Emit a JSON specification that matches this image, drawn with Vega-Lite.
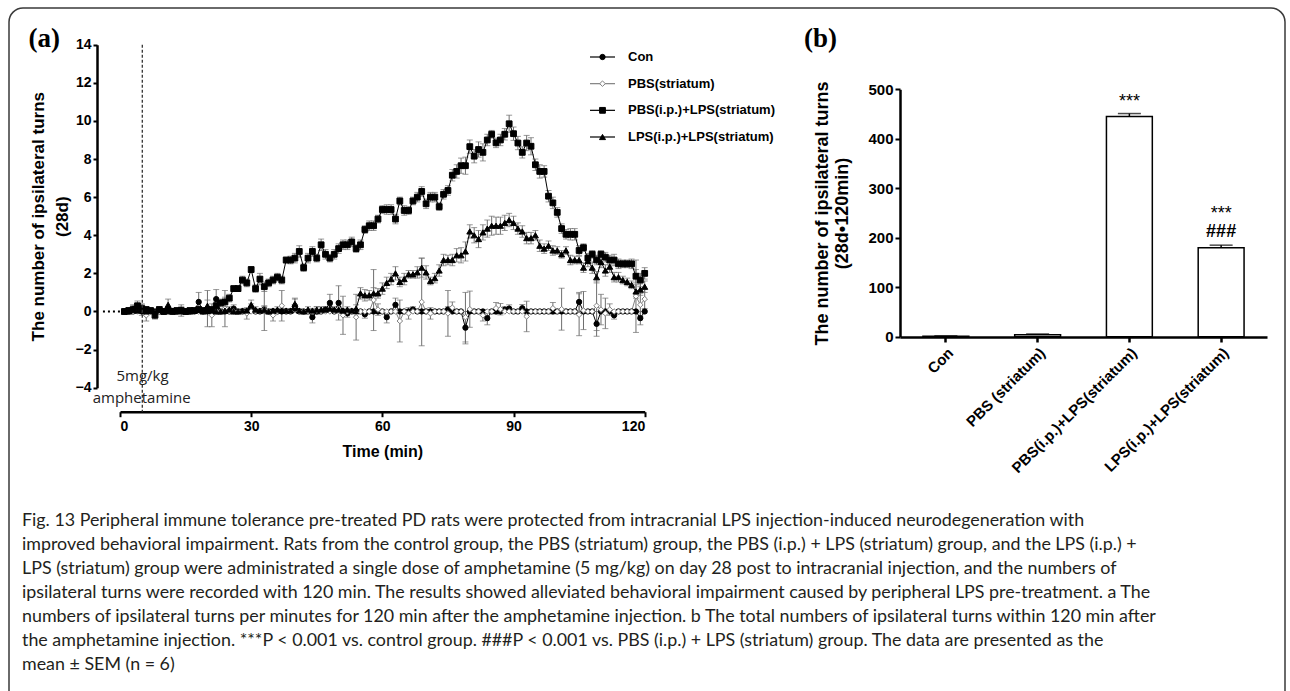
{
"$schema": "https://vega.github.io/schema/vega-lite/v6.json",
"width": 1276, "height": 700,
"autosize": {"type": "none"},
"padding": {"left": 9, "top": 8, "right": 5, "bottom": 0},
"background": "white",
"title": {
 "text": [
  "Fig. 13 Peripheral immune tolerance pre-treated PD rats were protected from intracranial LPS injection-induced neurodegeneration with",
  "improved behavioral impairment. Rats from the control group, the PBS (striatum) group, the PBS (i.p.) + LPS (striatum) group, and the LPS (i.p.) +",
  "LPS (striatum) group were administrated a single dose of amphetamine (5 mg/kg) on day 28 post to intracranial injection, and the numbers of",
  "ipsilateral turns were recorded with 120 min. The results showed alleviated behavioral impairment caused by peripheral LPS pre-treatment. a The",
  "numbers of ipsilateral turns per minutes for 120 min after the amphetamine injection. b The total numbers of ipsilateral turns within 120 min after",
  "the amphetamine injection. ***P < 0.001 vs. control group. ###P < 0.001 vs. PBS (i.p.) + LPS (striatum) group. The data are presented as the",
  "mean ± SEM (n = 6)"
 ],
 "orient": "bottom", "anchor": "start", "frame": "group", "offset": -196, "dx": 13,
 "font": "Lato", "fontSize": 17.85, "fontWeight": "normal", "lineHeight": 24, "color": "#231f20", "baseline": "top"
},
"config": {
 "view": {"stroke": "#3a3a3a", "strokeWidth": 1.5, "cornerRadius": 14},
 "axis": {"grid": false, "domainColor": "black", "domainWidth": 2.5, "tickColor": "black", "tickWidth": 2,
  "labelFont": "Liberation Sans", "labelFontWeight": "bold", "labelColor": "black",
  "titleFont": "Liberation Sans", "titleFontWeight": "bold", "titleColor": "black"}
},
"resolve": {"scale": {"x": "independent", "y": "independent"}, "axis": {"x": "independent", "y": "independent"}},
"layer": [
 {
  "data": {"values": [
{"s":"A","t":1,"v":0,"e":0},{"s":"A","t":2,"v":0,"e":0},{"s":"A","t":3,"v":0,"e":0},{"s":"A","t":4,"v":0.1,"e":0.15},{"s":"A","t":5,"v":0,"e":0},{"s":"A","t":6,"v":0,"e":0},{"s":"A","t":7,"v":0,"e":0},{"s":"A","t":8,"v":0,"e":0},{"s":"A","t":9,"v":0,"e":0},{"s":"A","t":10,"v":0,"e":0},
{"s":"A","t":11,"v":0,"e":0},{"s":"A","t":12,"v":0,"e":0},{"s":"A","t":13,"v":0,"e":0},{"s":"A","t":14,"v":0,"e":0},{"s":"A","t":15,"v":0,"e":0},{"s":"A","t":16,"v":0,"e":0},{"s":"A","t":17,"v":0,"e":0},{"s":"A","t":18,"v":0.5,"e":0.5},{"s":"A","t":19,"v":0,"e":0},{"s":"A","t":20,"v":0,"e":0},
{"s":"A","t":21,"v":0,"e":0},{"s":"A","t":22,"v":0.65,"e":0.5},{"s":"A","t":23,"v":0,"e":0},{"s":"A","t":24,"v":0,"e":0},{"s":"A","t":25,"v":0,"e":0},{"s":"A","t":26,"v":0.15,"e":0.2},{"s":"A","t":27,"v":0,"e":0},{"s":"A","t":28,"v":0,"e":0},{"s":"A","t":29,"v":0,"e":0},{"s":"A","t":30,"v":0.2,"e":0.2},
{"s":"A","t":31,"v":0,"e":0},{"s":"A","t":32,"v":0,"e":0},{"s":"A","t":33,"v":0.1,"e":0.2},{"s":"A","t":34,"v":0,"e":0},{"s":"A","t":35,"v":0,"e":0},{"s":"A","t":36,"v":0,"e":0},{"s":"A","t":37,"v":0,"e":0},{"s":"A","t":38,"v":0,"e":0},{"s":"A","t":39,"v":0,"e":0},{"s":"A","t":40,"v":0.15,"e":0.2},
{"s":"A","t":41,"v":0,"e":0},{"s":"A","t":42,"v":0,"e":0},{"s":"A","t":43,"v":0,"e":0},{"s":"A","t":44,"v":-0.3,"e":0.3},{"s":"A","t":45,"v":0,"e":0},{"s":"A","t":46,"v":0,"e":0},{"s":"A","t":47,"v":0.1,"e":0.15},{"s":"A","t":48,"v":0.45,"e":0.45},{"s":"A","t":49,"v":0,"e":0},{"s":"A","t":50,"v":0.45,"e":0.9},
{"s":"A","t":51,"v":0,"e":0},{"s":"A","t":52,"v":-0.1,"e":0.2},{"s":"A","t":53,"v":0,"e":0},{"s":"A","t":54,"v":0,"e":0},{"s":"A","t":55,"v":0,"e":0},{"s":"A","t":56,"v":-0.15,"e":0.2},{"s":"A","t":57,"v":0,"e":0},{"s":"A","t":58,"v":0,"e":0},{"s":"A","t":59,"v":0,"e":0},{"s":"A","t":60,"v":0,"e":0},
{"s":"A","t":61,"v":-0.3,"e":0.3},{"s":"A","t":62,"v":0,"e":0},{"s":"A","t":63,"v":0.35,"e":0.35},{"s":"A","t":64,"v":0,"e":0},{"s":"A","t":65,"v":0,"e":0},{"s":"A","t":66,"v":0,"e":0},{"s":"A","t":67,"v":0.1,"e":0.15},{"s":"A","t":68,"v":0,"e":0},{"s":"A","t":69,"v":0,"e":0},{"s":"A","t":70,"v":0,"e":0},
{"s":"A","t":71,"v":0,"e":0},{"s":"A","t":72,"v":0,"e":0},{"s":"A","t":73,"v":0,"e":0},{"s":"A","t":74,"v":0,"e":0},{"s":"A","t":75,"v":0.1,"e":0.15},{"s":"A","t":76,"v":0,"e":0},{"s":"A","t":77,"v":0,"e":0},{"s":"A","t":78,"v":0,"e":0},{"s":"A","t":79,"v":-0.85,"e":0.85},{"s":"A","t":80,"v":0,"e":0},
{"s":"A","t":81,"v":0,"e":0},{"s":"A","t":82,"v":0,"e":0},{"s":"A","t":83,"v":0,"e":0},{"s":"A","t":84,"v":-0.35,"e":0.35},{"s":"A","t":85,"v":0,"e":0},{"s":"A","t":86,"v":0,"e":0},{"s":"A","t":87,"v":0,"e":0},{"s":"A","t":88,"v":0.1,"e":0.15},{"s":"A","t":89,"v":0.15,"e":0.2},{"s":"A","t":90,"v":0,"e":0},
{"s":"A","t":91,"v":0,"e":0},{"s":"A","t":92,"v":0.17,"e":0.2},{"s":"A","t":93,"v":0,"e":0},{"s":"A","t":94,"v":0,"e":0},{"s":"A","t":95,"v":0,"e":0},{"s":"A","t":96,"v":0,"e":0},{"s":"A","t":97,"v":0,"e":0},{"s":"A","t":98,"v":0,"e":0},{"s":"A","t":99,"v":0,"e":0},{"s":"A","t":100,"v":0,"e":0},
{"s":"A","t":101,"v":0,"e":0},{"s":"A","t":102,"v":0,"e":0},{"s":"A","t":103,"v":0,"e":0},{"s":"A","t":104,"v":0,"e":0},{"s":"A","t":105,"v":0.5,"e":0.5},{"s":"A","t":106,"v":0,"e":0},{"s":"A","t":107,"v":0,"e":0},{"s":"A","t":108,"v":0,"e":0},{"s":"A","t":109,"v":-0.65,"e":0.65},{"s":"A","t":110,"v":0,"e":0},
{"s":"A","t":111,"v":0,"e":0},{"s":"A","t":112,"v":0,"e":0},{"s":"A","t":113,"v":-0.2,"e":0.2},{"s":"A","t":114,"v":0,"e":0},{"s":"A","t":115,"v":0,"e":0},{"s":"A","t":116,"v":0,"e":0},{"s":"A","t":117,"v":0,"e":0},{"s":"A","t":118,"v":0,"e":0},{"s":"A","t":119,"v":-0.35,"e":0.35},{"s":"A","t":120,"v":0,"e":0},
{"s":"B","t":1,"v":0,"e":0},{"s":"B","t":2,"v":0,"e":0},{"s":"B","t":3,"v":0,"e":0},{"s":"B","t":4,"v":0,"e":0},{"s":"B","t":5,"v":0.1,"e":0.3},{"s":"B","t":6,"v":-0.2,"e":0.3},{"s":"B","t":7,"v":0,"e":0},{"s":"B","t":8,"v":0,"e":0},{"s":"B","t":9,"v":0,"e":0},{"s":"B","t":10,"v":0,"e":0},
{"s":"B","t":11,"v":0,"e":0},{"s":"B","t":12,"v":0,"e":0},{"s":"B","t":13,"v":0,"e":0},{"s":"B","t":14,"v":0.05,"e":0.3},{"s":"B","t":15,"v":0,"e":0},{"s":"B","t":16,"v":0,"e":0},{"s":"B","t":17,"v":0,"e":0},{"s":"B","t":18,"v":0,"e":0},{"s":"B","t":19,"v":0,"e":0},{"s":"B","t":20,"v":0.15,"e":0.95},
{"s":"B","t":21,"v":-0.2,"e":0.6},{"s":"B","t":22,"v":0,"e":0},{"s":"B","t":23,"v":0,"e":0},{"s":"B","t":24,"v":0.15,"e":0.95},{"s":"B","t":25,"v":0,"e":0},{"s":"B","t":26,"v":0,"e":0},{"s":"B","t":27,"v":0,"e":0},{"s":"B","t":28,"v":0,"e":0},{"s":"B","t":29,"v":-0.1,"e":0.3},{"s":"B","t":30,"v":0,"e":0},
{"s":"B","t":31,"v":0,"e":0},{"s":"B","t":32,"v":0,"e":0},{"s":"B","t":33,"v":0.1,"e":1.1},{"s":"B","t":34,"v":0,"e":0},{"s":"B","t":35,"v":-0.2,"e":0.3},{"s":"B","t":36,"v":0,"e":0},{"s":"B","t":37,"v":0.3,"e":0.8},{"s":"B","t":38,"v":0,"e":0},{"s":"B","t":39,"v":0,"e":0},{"s":"B","t":40,"v":0.35,"e":0.3},
{"s":"B","t":41,"v":0,"e":0},{"s":"B","t":42,"v":0,"e":0},{"s":"B","t":43,"v":0,"e":0},{"s":"B","t":44,"v":0,"e":0},{"s":"B","t":45,"v":0.05,"e":0.2},{"s":"B","t":46,"v":0,"e":0},{"s":"B","t":47,"v":0,"e":0},{"s":"B","t":48,"v":0,"e":0},{"s":"B","t":49,"v":0,"e":0},{"s":"B","t":50,"v":0,"e":0},
{"s":"B","t":51,"v":-0.2,"e":1.0},{"s":"B","t":52,"v":0,"e":0},{"s":"B","t":53,"v":0,"e":0},{"s":"B","t":54,"v":-0.3,"e":1.2},{"s":"B","t":55,"v":0,"e":0},{"s":"B","t":56,"v":0,"e":0},{"s":"B","t":57,"v":0,"e":0},{"s":"B","t":58,"v":0.6,"e":1.6},{"s":"B","t":59,"v":0.1,"e":0.3},{"s":"B","t":60,"v":0,"e":0},
{"s":"B","t":61,"v":0,"e":0},{"s":"B","t":62,"v":0,"e":0},{"s":"B","t":63,"v":0,"e":0},{"s":"B","t":64,"v":-0.5,"e":1.1},{"s":"B","t":65,"v":0,"e":0},{"s":"B","t":66,"v":-0.1,"e":0.3},{"s":"B","t":67,"v":0,"e":0},{"s":"B","t":68,"v":0,"e":0},{"s":"B","t":69,"v":0.5,"e":2.3},{"s":"B","t":70,"v":0,"e":0},
{"s":"B","t":71,"v":-0.1,"e":0.3},{"s":"B","t":72,"v":0,"e":0},{"s":"B","t":73,"v":0,"e":0},{"s":"B","t":74,"v":0,"e":0},{"s":"B","t":75,"v":-0.1,"e":1.2},{"s":"B","t":76,"v":0.2,"e":0.3},{"s":"B","t":77,"v":0,"e":0},{"s":"B","t":78,"v":0,"e":0},{"s":"B","t":79,"v":-0.3,"e":1.3},{"s":"B","t":80,"v":0.12,"e":0.95},
{"s":"B","t":81,"v":0,"e":0},{"s":"B","t":82,"v":0,"e":0},{"s":"B","t":83,"v":-0.2,"e":0.3},{"s":"B","t":84,"v":0,"e":0},{"s":"B","t":85,"v":0,"e":0},{"s":"B","t":86,"v":0.17,"e":0.3},{"s":"B","t":87,"v":0.12,"e":0.3},{"s":"B","t":88,"v":0,"e":0},{"s":"B","t":89,"v":0,"e":0},{"s":"B","t":90,"v":0,"e":0},
{"s":"B","t":91,"v":0,"e":0},{"s":"B","t":92,"v":0,"e":0},{"s":"B","t":93,"v":-0.26,"e":0.8},{"s":"B","t":94,"v":0,"e":0},{"s":"B","t":95,"v":0,"e":0},{"s":"B","t":96,"v":0,"e":0},{"s":"B","t":97,"v":0,"e":0},{"s":"B","t":98,"v":0,"e":0},{"s":"B","t":99,"v":0.17,"e":0.3},{"s":"B","t":100,"v":0,"e":0},
{"s":"B","t":101,"v":0.12,"e":1.1},{"s":"B","t":102,"v":0,"e":0},{"s":"B","t":103,"v":0,"e":0},{"s":"B","t":104,"v":0,"e":0},{"s":"B","t":105,"v":-0.17,"e":1.1},{"s":"B","t":106,"v":0.05,"e":1.0},{"s":"B","t":107,"v":0,"e":0},{"s":"B","t":108,"v":0,"e":0},{"s":"B","t":109,"v":0.3,"e":1.3},{"s":"B","t":110,"v":0.1,"e":0.8},
{"s":"B","t":111,"v":-0.1,"e":0.8},{"s":"B","t":112,"v":0.1,"e":0.3},{"s":"B","t":113,"v":0,"e":0},{"s":"B","t":114,"v":0,"e":0},{"s":"B","t":115,"v":0,"e":0},{"s":"B","t":116,"v":0,"e":0},{"s":"B","t":117,"v":0,"e":0},{"s":"B","t":118,"v":0.8,"e":1.9},{"s":"B","t":119,"v":0.35,"e":0.6},{"s":"B","t":120,"v":0.65,"e":0.5},
{"s":"C","t":1,"v":0,"e":0.1},{"s":"C","t":2,"v":0.05,"e":0.15},{"s":"C","t":3,"v":0.1,"e":0.2},{"s":"C","t":4,"v":0.3,"e":0.25},{"s":"C","t":5,"v":0.15,"e":0.2},{"s":"C","t":6,"v":0.1,"e":0.15},{"s":"C","t":7,"v":0.05,"e":0.1},{"s":"C","t":8,"v":-0.2,"e":0.2},{"s":"C","t":9,"v":0.1,"e":0.15},{"s":"C","t":10,"v":0,"e":0.1},
{"s":"C","t":11,"v":0.05,"e":0.1},{"s":"C","t":12,"v":0,"e":0.1},{"s":"C","t":13,"v":0.05,"e":0.1},{"s":"C","t":14,"v":0.05,"e":0.15},{"s":"C","t":15,"v":0,"e":0.1},{"s":"C","t":16,"v":0.05,"e":0.1},{"s":"C","t":17,"v":0.05,"e":0.1},{"s":"C","t":18,"v":0.1,"e":0.15},{"s":"C","t":19,"v":0.05,"e":0.1},{"s":"C","t":20,"v":0.05,"e":0.15},
{"s":"C","t":21,"v":0.1,"e":0.15},{"s":"C","t":22,"v":0.3,"e":0.2},{"s":"C","t":23,"v":0.45,"e":0.2},{"s":"C","t":24,"v":0.5,"e":0.25},{"s":"C","t":25,"v":0.7,"e":0.2},{"s":"C","t":26,"v":1.2,"e":0.15},{"s":"C","t":27,"v":1.2,"e":0.15},{"s":"C","t":28,"v":1.65,"e":0.2},{"s":"C","t":29,"v":1.5,"e":0.2},{"s":"C","t":30,"v":2.2,"e":0.15},
{"s":"C","t":31,"v":1.2,"e":0.2},{"s":"C","t":32,"v":1.7,"e":0.3},{"s":"C","t":33,"v":1.3,"e":0.25},{"s":"C","t":34,"v":1.5,"e":0.2},{"s":"C","t":35,"v":1.65,"e":0.2},{"s":"C","t":36,"v":1.8,"e":0.2},{"s":"C","t":37,"v":1.65,"e":0.2},{"s":"C","t":38,"v":2.7,"e":0.15},{"s":"C","t":39,"v":2.7,"e":0.2},{"s":"C","t":40,"v":2.8,"e":0.25},
{"s":"C","t":41,"v":3.15,"e":0.3},{"s":"C","t":42,"v":2.3,"e":0.2},{"s":"C","t":43,"v":2.8,"e":0.25},{"s":"C","t":44,"v":3.15,"e":0.25},{"s":"C","t":45,"v":2.8,"e":0.2},{"s":"C","t":46,"v":3.5,"e":0.3},{"s":"C","t":47,"v":3.0,"e":0.25},{"s":"C","t":48,"v":2.8,"e":0.2},{"s":"C","t":49,"v":3.0,"e":0.25},{"s":"C","t":50,"v":3.3,"e":0.25},
{"s":"C","t":51,"v":3.5,"e":0.25},{"s":"C","t":52,"v":3.5,"e":0.25},{"s":"C","t":53,"v":3.65,"e":0.25},{"s":"C","t":54,"v":3.3,"e":0.2},{"s":"C","t":55,"v":3.5,"e":0.25},{"s":"C","t":56,"v":4.3,"e":0.2},{"s":"C","t":57,"v":4.5,"e":0.25},{"s":"C","t":58,"v":4.5,"e":0.25},{"s":"C","t":59,"v":4.85,"e":0.2},{"s":"C","t":60,"v":5.35,"e":0.2},
{"s":"C","t":61,"v":5.35,"e":0.25},{"s":"C","t":62,"v":5.35,"e":0.25},{"s":"C","t":63,"v":4.85,"e":0.25},{"s":"C","t":64,"v":5.8,"e":0.2},{"s":"C","t":65,"v":5.3,"e":0.25},{"s":"C","t":66,"v":5.3,"e":0.2},{"s":"C","t":67,"v":5.8,"e":0.2},{"s":"C","t":68,"v":6.0,"e":0.25},{"s":"C","t":69,"v":6.3,"e":0.25},{"s":"C","t":70,"v":5.65,"e":0.25},
{"s":"C","t":71,"v":6.0,"e":0.25},{"s":"C","t":72,"v":6.0,"e":0.25},{"s":"C","t":73,"v":5.5,"e":0.2},{"s":"C","t":74,"v":6.15,"e":0.25},{"s":"C","t":75,"v":6.35,"e":0.25},{"s":"C","t":76,"v":7.15,"e":0.3},{"s":"C","t":77,"v":7.35,"e":0.35},{"s":"C","t":78,"v":7.65,"e":0.4},{"s":"C","t":79,"v":7.65,"e":0.45},{"s":"C","t":80,"v":8.65,"e":0.35},
{"s":"C","t":81,"v":8.15,"e":0.35},{"s":"C","t":82,"v":8.5,"e":0.4},{"s":"C","t":83,"v":8.35,"e":0.45},{"s":"C","t":84,"v":9.0,"e":0.3},{"s":"C","t":85,"v":9.3,"e":0.2},{"s":"C","t":86,"v":8.85,"e":0.25},{"s":"C","t":87,"v":9.0,"e":0.3},{"s":"C","t":88,"v":9.3,"e":0.3},{"s":"C","t":89,"v":9.85,"e":0.45},{"s":"C","t":90,"v":9.33,"e":0.35},
{"s":"C","t":91,"v":8.84,"e":0.35},{"s":"C","t":92,"v":8.35,"e":0.3},{"s":"C","t":93,"v":8.84,"e":0.4},{"s":"C","t":94,"v":8.67,"e":0.45},{"s":"C","t":95,"v":7.7,"e":0.3},{"s":"C","t":96,"v":7.35,"e":0.35},{"s":"C","t":97,"v":7.35,"e":0.3},{"s":"C","t":98,"v":6.05,"e":0.3},{"s":"C","t":99,"v":5.7,"e":0.3},{"s":"C","t":100,"v":5.2,"e":0.25},
{"s":"C","t":101,"v":4.35,"e":0.25},{"s":"C","t":102,"v":4.05,"e":0.25},{"s":"C","t":103,"v":4.05,"e":0.3},{"s":"C","t":104,"v":4.05,"e":0.3},{"s":"C","t":105,"v":3.2,"e":0.25},{"s":"C","t":106,"v":3.35,"e":0.2},{"s":"C","t":107,"v":2.8,"e":0.25},{"s":"C","t":108,"v":3.0,"e":0.2},{"s":"C","t":109,"v":2.7,"e":0.25},{"s":"C","t":110,"v":3.0,"e":0.2},
{"s":"C","t":111,"v":2.85,"e":0.25},{"s":"C","t":112,"v":2.7,"e":0.25},{"s":"C","t":113,"v":2.7,"e":0.3},{"s":"C","t":114,"v":2.5,"e":0.25},{"s":"C","t":115,"v":2.5,"e":0.2},{"s":"C","t":116,"v":2.5,"e":0.2},{"s":"C","t":117,"v":2.5,"e":0.25},{"s":"C","t":118,"v":1.85,"e":0.35},{"s":"C","t":119,"v":1.65,"e":0.35},{"s":"C","t":120,"v":2.0,"e":0.3},
{"s":"D","t":1,"v":0,"e":0},{"s":"D","t":2,"v":0,"e":0.1},{"s":"D","t":3,"v":0.15,"e":0.2},{"s":"D","t":4,"v":0.05,"e":0.15},{"s":"D","t":5,"v":0.1,"e":0.2},{"s":"D","t":6,"v":0,"e":0.1},{"s":"D","t":7,"v":0.05,"e":0.1},{"s":"D","t":8,"v":0,"e":0.1},{"s":"D","t":9,"v":0.1,"e":0.15},{"s":"D","t":10,"v":0,"e":0},
{"s":"D","t":11,"v":0.35,"e":0.3},{"s":"D","t":12,"v":0.05,"e":0.1},{"s":"D","t":13,"v":0,"e":0},{"s":"D","t":14,"v":0.1,"e":0.15},{"s":"D","t":15,"v":0,"e":0.1},{"s":"D","t":16,"v":0,"e":0},{"s":"D","t":17,"v":0.05,"e":0.1},{"s":"D","t":18,"v":0.1,"e":0.15},{"s":"D","t":19,"v":0,"e":0.1},{"s":"D","t":20,"v":0.3,"e":0.3},
{"s":"D","t":21,"v":0.05,"e":0.1},{"s":"D","t":22,"v":0,"e":0.1},{"s":"D","t":23,"v":0,"e":0},{"s":"D","t":24,"v":0.05,"e":0.1},{"s":"D","t":25,"v":0.1,"e":0.15},{"s":"D","t":26,"v":0,"e":0.1},{"s":"D","t":27,"v":0,"e":0},{"s":"D","t":28,"v":0.05,"e":0.1},{"s":"D","t":29,"v":0.05,"e":0.1},{"s":"D","t":30,"v":0.35,"e":0.25},
{"s":"D","t":31,"v":0.1,"e":0.15},{"s":"D","t":32,"v":0.05,"e":0.1},{"s":"D","t":33,"v":0.1,"e":0.15},{"s":"D","t":34,"v":0,"e":0.1},{"s":"D","t":35,"v":0.05,"e":0.1},{"s":"D","t":36,"v":0.1,"e":0.15},{"s":"D","t":37,"v":0.05,"e":0.1},{"s":"D","t":38,"v":0.05,"e":0.1},{"s":"D","t":39,"v":0.05,"e":0.1},{"s":"D","t":40,"v":0.4,"e":0.3},
{"s":"D","t":41,"v":0.05,"e":0.1},{"s":"D","t":42,"v":0,"e":0.1},{"s":"D","t":43,"v":0.1,"e":0.15},{"s":"D","t":44,"v":0.05,"e":0.1},{"s":"D","t":45,"v":0.1,"e":0.15},{"s":"D","t":46,"v":0.1,"e":0.15},{"s":"D","t":47,"v":0.1,"e":0.15},{"s":"D","t":48,"v":0.15,"e":0.2},{"s":"D","t":49,"v":0.1,"e":0.15},{"s":"D","t":50,"v":0.1,"e":0.15},
{"s":"D","t":51,"v":0.05,"e":0.1},{"s":"D","t":52,"v":0.1,"e":0.15},{"s":"D","t":53,"v":0.05,"e":0.1},{"s":"D","t":54,"v":0.15,"e":0.2},{"s":"D","t":55,"v":0.95,"e":0.3},{"s":"D","t":56,"v":0.85,"e":0.3},{"s":"D","t":57,"v":0.85,"e":0.25},{"s":"D","t":58,"v":0.95,"e":0.3},{"s":"D","t":59,"v":0.95,"e":0.25},{"s":"D","t":60,"v":1.2,"e":0.3},
{"s":"D","t":61,"v":1.5,"e":0.3},{"s":"D","t":62,"v":1.7,"e":0.3},{"s":"D","t":63,"v":2.0,"e":0.35},{"s":"D","t":64,"v":1.55,"e":0.25},{"s":"D","t":65,"v":1.7,"e":0.3},{"s":"D","t":66,"v":1.95,"e":0.2},{"s":"D","t":67,"v":1.95,"e":0.2},{"s":"D","t":68,"v":2.05,"e":0.3},{"s":"D","t":69,"v":2.3,"e":0.5},{"s":"D","t":70,"v":2.05,"e":0.35},
{"s":"D","t":71,"v":1.6,"e":0.2},{"s":"D","t":72,"v":1.75,"e":0.25},{"s":"D","t":73,"v":2.15,"e":0.3},{"s":"D","t":74,"v":2.7,"e":0.3},{"s":"D","t":75,"v":2.7,"e":0.25},{"s":"D","t":76,"v":2.7,"e":0.3},{"s":"D","t":77,"v":2.95,"e":0.35},{"s":"D","t":78,"v":2.95,"e":0.4},{"s":"D","t":79,"v":3.15,"e":0.5},{"s":"D","t":80,"v":4.2,"e":0.35},
{"s":"D","t":81,"v":4.0,"e":0.4},{"s":"D","t":82,"v":3.8,"e":0.45},{"s":"D","t":83,"v":4.15,"e":0.4},{"s":"D","t":84,"v":4.35,"e":0.45},{"s":"D","t":85,"v":4.5,"e":0.5},{"s":"D","t":86,"v":4.5,"e":0.45},{"s":"D","t":87,"v":4.5,"e":0.45},{"s":"D","t":88,"v":4.65,"e":0.4},{"s":"D","t":89,"v":4.8,"e":0.35},{"s":"D","t":90,"v":4.65,"e":0.35},
{"s":"D","t":91,"v":4.35,"e":0.3},{"s":"D","t":92,"v":4.2,"e":0.3},{"s":"D","t":93,"v":3.85,"e":0.3},{"s":"D","t":94,"v":3.85,"e":0.3},{"s":"D","t":95,"v":4.0,"e":0.25},{"s":"D","t":96,"v":3.45,"e":0.3},{"s":"D","t":97,"v":3.3,"e":0.25},{"s":"D","t":98,"v":3.45,"e":0.25},{"s":"D","t":99,"v":3.2,"e":0.25},{"s":"D","t":100,"v":3.2,"e":0.2},
{"s":"D","t":101,"v":3.0,"e":0.2},{"s":"D","t":102,"v":3.2,"e":0.2},{"s":"D","t":103,"v":2.7,"e":0.25},{"s":"D","t":104,"v":2.7,"e":0.2},{"s":"D","t":105,"v":2.7,"e":0.2},{"s":"D","t":106,"v":2.3,"e":0.25},{"s":"D","t":107,"v":2.65,"e":0.3},{"s":"D","t":108,"v":2.3,"e":0.3},{"s":"D","t":109,"v":1.8,"e":0.3},{"s":"D","t":110,"v":2.6,"e":0.3},
{"s":"D","t":111,"v":2.15,"e":0.3},{"s":"D","t":112,"v":2.35,"e":0.3},{"s":"D","t":113,"v":1.8,"e":0.25},{"s":"D","t":114,"v":1.8,"e":0.25},{"s":"D","t":115,"v":1.65,"e":0.2},{"s":"D","t":116,"v":1.55,"e":0.2},{"s":"D","t":117,"v":1.4,"e":0.2},{"s":"D","t":118,"v":1.05,"e":0.35},{"s":"D","t":119,"v":1.15,"e":0.3},{"s":"D","t":120,"v":1.3,"e":0.3}
  ]},
  "layer": [
   {"transform": [{"filter": "datum.e > 0"}],
    "mark": {"type": "errorbar", "ticks": true, "size": 6, "thickness": 1, "color": "#6e6e6e"},
    "encoding": {
     "x": {"field": "t", "type": "quantitative", "scale": {"domain": [0, 120], "range": [111, 635.7], "nice": false, "zero": false},
      "axis": {"orient": "bottom", "offset": -296.3, "values": [0, 30, 60, 90, 120], "title": "Time (min)", "titleFontSize": 16, "titlePadding": 10, "labelFontSize": 14, "tickSize": 5, "labelPadding": 3}},
     "y": {"field": "v", "type": "quantitative", "scale": {"domain": [-4, 14], "range": [379.7, 36.7], "nice": false, "zero": false},
      "axis": {"orient": "left", "offset": -88, "values": [-4, -2, 0, 2, 4, 6, 8, 10, 12, 14], "title": ["The number of ipsilateral turns", "(28d)"], "titleFontSize": 17, "titleLineHeight": 23.7, "titlePadding": 4, "labelFontSize": 14, "tickSize": 4, "labelPadding": 2}},
     "yError": {"field": "e"}
    }},
   {"mark": {"type": "line", "strokeWidth": 1},
    "encoding": {
     "x": {"field": "t", "type": "quantitative"},
     "y": {"field": "v", "type": "quantitative"},
     "stroke": {"field": "s", "type": "nominal", "scale": {"domain": ["A", "B", "C", "D"], "range": ["black", "#808080", "black", "black"]}, "legend": null}
    }},
   {"mark": {"type": "point", "filled": true, "opacity": 1, "strokeWidth": 1},
    "encoding": {
     "x": {"field": "t", "type": "quantitative"},
     "y": {"field": "v", "type": "quantitative"},
     "shape": {"field": "s", "type": "nominal", "scale": {"domain": ["A", "B", "C", "D"], "range": ["circle", "diamond", "square", "triangle-up"]}, "legend": null},
     "stroke": {"field": "s", "type": "nominal", "legend": null},
     "size": {"field": "s", "type": "nominal", "scale": {"domain": ["A", "B", "C", "D"], "range": [28, 36, 46, 36]}, "legend": null},
     "fill": {"field": "s", "type": "nominal", "scale": {"domain": ["A", "B", "C", "D"], "range": ["black", "white", "black", "black"]}, "legend": null}
    }},
   {"data": {"values": [{}]},
    "mark": {"type": "rule", "strokeDash": [3, 2], "strokeWidth": 1.3, "color": "#333"},
    "encoding": {"x": {"datum": 5.1, "type": "quantitative"}, "y": {"datum": 14, "type": "quantitative"}, "y2": {"datum": -5.26}}},
   {"data": {"values": [{}]},
    "mark": {"type": "rule", "strokeDash": [2, 3], "strokeWidth": 2, "color": "black"},
    "encoding": {"x": {"datum": -3.9, "type": "quantitative"}, "x2": {"datum": 0}, "y": {"datum": 0, "type": "quantitative"}}},
   {"data": {"values": [{}]},
    "mark": {"type": "text", "text": "5mg/kg", "font": "Open Sans", "fontSize": 15, "color": "#222", "baseline": "middle"},
    "encoding": {"x": {"datum": 5.15, "type": "quantitative"}, "y": {"datum": -3.41, "type": "quantitative"}}},
   {"data": {"values": [{}]},
    "mark": {"type": "text", "text": "amphetamine", "font": "Open Sans", "fontSize": 15, "color": "#222", "baseline": "middle"},
    "encoding": {"x": {"datum": 4.96, "type": "quantitative"}, "y": {"datum": -4.53, "type": "quantitative"}}},
   {"data": {"values": [{}]},
    "mark": {"type": "text", "text": "(a)", "font": "Liberation Serif", "fontWeight": "bold", "fontSize": 27, "color": "black", "baseline": "middle"},
    "encoding": {"x": {"datum": -17.3, "type": "quantitative"}, "y": {"datum": 14.3, "type": "quantitative"}}},
   {"data": {"values": [{}]},
    "mark": {"type": "text", "text": "(b)", "font": "Liberation Serif", "fontWeight": "bold", "fontSize": 27, "color": "black", "baseline": "middle"},
    "encoding": {"x": {"datum": 160.2, "type": "quantitative"}, "y": {"datum": 14.3, "type": "quantitative"}}}
  ]
 },
 {
  "data": {"values": [
   {"group": "Con", "mean": 1, "sem": 0.5, "s1": "", "s2": "", "s3": ""},
   {"group": "PBS (striatum)", "mean": 4, "sem": 1.5, "s1": "", "s2": "", "s3": ""},
   {"group": "PBS(i.p.)+LPS(striatum)", "mean": 445, "sem": 6, "s1": "***", "s2": "", "s3": ""},
   {"group": "LPS(i.p.)+LPS(striatum)", "mean": 180, "sem": 5, "s1": "", "s2": "###", "s3": "***"}
  ]},
  "layer": [
   {"mark": {"type": "errorbar", "ticks": true, "size": 23, "thickness": 1.5, "color": "black"},
    "encoding": {
     "x": {"field": "group", "type": "nominal", "sort": null,
      "scale": {"domain": ["Con", "PBS (striatum)", "PBS(i.p.)+LPS(striatum)", "LPS(i.p.)+LPS(striatum)"], "range": [891, 1258], "paddingInner": 0.5, "paddingOuter": 0.25},
      "axis": {"orient": "bottom", "offset": -371, "title": null, "labelAngle": -45, "labelFontSize": 15, "tickSize": 5, "tickWidth": 2.5, "labelPadding": 3}},
     "y": {"field": "mean", "type": "quantitative", "scale": {"domain": [0, 500], "range": [328.7, 81.3], "nice": false},
      "axis": {"orient": "left", "offset": -891, "values": [0, 100, 200, 300, 400, 500], "title": ["The number of ipsilateral turns", "(28d•120min)"], "titleFontSize": 18, "titleLineHeight": 20, "titlePadding": 16, "labelFontSize": 15, "tickSize": 5, "labelPadding": 2}},
     "yError": {"field": "sem"}
    }},
   {"mark": {"type": "bar", "fill": "white", "stroke": "black", "strokeWidth": 1.5},
    "encoding": {
     "x": {"field": "group", "type": "nominal", "sort": null},
     "y": {"field": "mean", "type": "quantitative"}
    }},
   {"mark": {"type": "text", "baseline": "bottom", "dy": -6, "font": "Liberation Sans", "fontSize": 18, "fontWeight": "normal", "color": "black"},
    "encoding": {
     "x": {"field": "group", "type": "nominal", "sort": null},
     "y": {"field": "mean", "type": "quantitative"},
     "text": {"field": "s1"}
    }},
   {"mark": {"type": "text", "baseline": "bottom", "dy": -6.5, "font": "Liberation Sans", "fontSize": 18, "fontWeight": "bold", "color": "black"},
    "encoding": {
     "x": {"field": "group", "type": "nominal", "sort": null},
     "y": {"field": "mean", "type": "quantitative"},
     "text": {"field": "s2"}
    }},
   {"mark": {"type": "text", "baseline": "bottom", "dy": -24.5, "font": "Liberation Sans", "fontSize": 18, "fontWeight": "normal", "color": "black"},
    "encoding": {
     "x": {"field": "group", "type": "nominal", "sort": null},
     "y": {"field": "mean", "type": "quantitative"},
     "text": {"field": "s3"}
    }}
  ]
 },
 {
  "data": {"values": [
   {"s": "A", "label": "Con"},
   {"s": "B", "label": "PBS(striatum)"},
   {"s": "C", "label": "PBS(i.p.)+LPS(striatum)"},
   {"s": "D", "label": "LPS(i.p.)+LPS(striatum)"}
  ]},
  "encoding": {"y": {"field": "label", "type": "nominal", "sort": null, "scale": {"type": "point", "range": [49, 129], "padding": 0}, "axis": null}},
  "layer": [
   {"mark": {"type": "rule", "strokeWidth": 1.2},
    "encoding": {
     "x": {"datum": 0, "type": "quantitative", "scale": {"domain": [0, 1], "range": [581, 606], "nice": false, "zero": false}, "axis": null},
     "x2": {"datum": 1},
     "stroke": {"field": "s", "type": "nominal", "legend": null}
    }},
   {"mark": {"type": "point", "filled": true, "opacity": 1, "strokeWidth": 1},
    "encoding": {
     "x": {"datum": 0.5, "type": "quantitative"},
     "shape": {"field": "s", "type": "nominal", "legend": null},
     "stroke": {"field": "s", "type": "nominal", "legend": null},
     "size": {"field": "s", "type": "nominal", "legend": null},
     "fill": {"field": "s", "type": "nominal", "legend": null}
    }},
   {"mark": {"type": "text", "align": "left", "baseline": "middle", "font": "Liberation Sans", "fontWeight": "bold", "fontSize": 13, "color": "black"},
    "encoding": {
     "x": {"datum": 1.52, "type": "quantitative"},
     "text": {"field": "label"}
    }}
  ]
 }
]
}
